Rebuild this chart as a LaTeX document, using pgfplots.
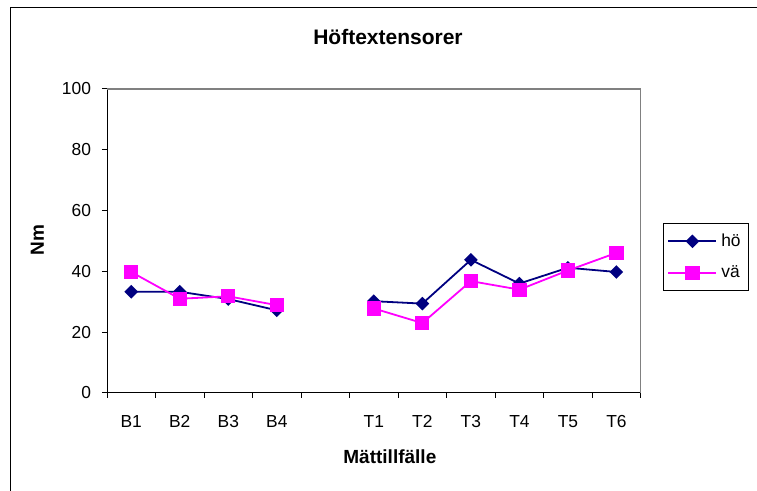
\documentclass[border=0pt]{standalone}
\usepackage{fontspec}
\setmainfont{Liberation Sans}
\usepackage{pgfplots}
\pgfplotsset{compat=1.18}
\definecolor{hocol}{RGB}{0,0,128}
\definecolor{vacol}{RGB}{255,0,255}
\definecolor{framegray}{RGB}{128,128,128}

\begin{document}
\begin{tikzpicture}
\path[use as bounding box] (0,0) rectangle (378.5pt,245.5pt);
% chart frame
\draw[black, line width=0.5pt] (5pt,-3pt) -- (5pt,241.5pt) -- (385pt,241.5pt);
\begin{axis}[
  at={(53.5pt,49pt)}, anchor=south west,
  scale only axis, width=266.85pt, height=152pt,
  clip=false,
  xmin=-0.5, xmax=10.5, ymin=0, ymax=100,
  axis x line*=bottom, axis y line*=left,
  axis line style={-, black, line width=0.5pt},
  tick align=outside,
  xtick={0,1,2,3,5,6,7,8,9,10},
  xticklabels={B1,B2,B3,B4,T1,T2,T3,T4,T5,T6},
  major x tick style={draw=none},
  minor xtick={-0.5,0.5,...,10.5},
  minor tick length=2.5pt,
  major tick length=2.5pt,
  every tick/.style={black, line width=0.5pt},
  ytick={0,20,...,100},
  /pgf/number format/assume math mode=true,
  tick label style={font=\fontsize{8.7}{10}\selectfont},
  xticklabel style={yshift=-5pt},
  yticklabel style={xshift=-2pt},
  unbounded coords=jump,
  title={Höftextensorer},
  title style={font=\bfseries\fontsize{10.5}{12}\selectfont,
    at={(axis description cs:0.5265,1.13)}, anchor=center},
  xlabel={Mättillfälle},
  xlabel style={font=\bfseries\fontsize{9.5}{11}\selectfont,
    at={(axis description cs:0.530,-0.209)}, anchor=center},
  ylabel={Nm},
  ylabel style={font=\bfseries\fontsize{9.5}{11}\selectfont,
    at={(axis description cs:-0.1306,0.503)}, anchor=center, rotate=0},
  legend style={at={(axis description cs:1.0418,0.559)}, anchor=north west,
    draw=black, line width=0.5pt, font=\fontsize{8.7}{10}\selectfont,
    inner xsep=2pt, inner ysep=3pt, row sep=4pt},
  legend cell align=left,
  legend image code/.code={%
    \draw[mark repeat=2,mark phase=2]
      plot coordinates {(0pt,0pt) (12pt,0pt) (24pt,0pt)};},
]
% plot area border (top and right)
\draw[framegray, line width=0.6pt] (rel axis cs:0,1) -- (rel axis cs:1,1) -- (rel axis cs:1,0);

\addplot[hocol, line width=0.9pt, mark=square*, mark size=1.95pt,
  mark options={solid, rotate=45, fill=hocol, draw=hocol}]
  coordinates {(0,33.3) (1,33.3) (2,30.9) (3,27.2) (4,nan)
               (5,30.2) (6,29.4) (7,43.8) (8,36.0) (9,41.2) (10,39.8)};
\addlegendentry{hö}
\addplot[vacol, line width=0.9pt, mark=square*, mark size=3.1pt,
  mark options={solid, fill=vacol, draw=vacol}]
  coordinates {(0,39.8) (1,31.0) (2,31.8) (3,28.9) (4,nan)
               (5,27.8) (6,23.0) (7,36.8) (8,34.0) (9,40.3) (10,46.1)};
\addlegendentry{vä}
\end{axis}
\end{tikzpicture}
\end{document}
